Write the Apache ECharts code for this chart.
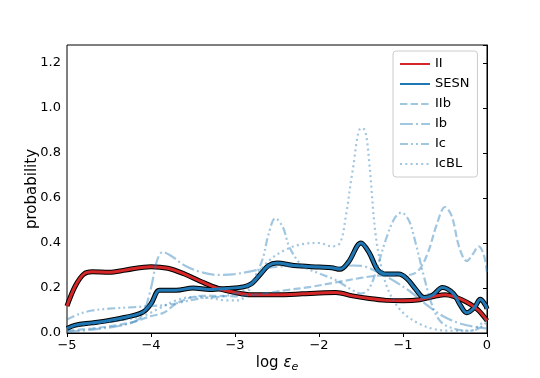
<!DOCTYPE html>
<html>
<head>
<meta charset="utf-8">
<script src="https://cdn.jsdelivr.net/npm/echarts@6/dist/echarts.min.js"></script>
<style>
html, body { margin: 0; padding: 0; background: #fff; }
#chart { width: 540px; height: 378px; }
</style>
</head>
<body>
<div id="chart"></div>
<script>
// legend names
var names = ["II", "SESN", "IIb", "Ib", "Ic", "IcBL"];

// II
var xII = [-5, -4.9, -4.8, -4.7, -4.5, -4.3, -4.0, -3.8, -3.6, -3.4, -3.2, -3.0, -2.8, -2.5, -2.2, -2.0, -1.8, -1.6, -1.4, -1.2, -1.0, -0.8, -0.6, -0.5, -0.4, -0.3, -0.2, -0.1, 0];
var yII = [0.12, 0.21, 0.262, 0.272, 0.27, 0.28, 0.295, 0.288, 0.262, 0.228, 0.198, 0.18, 0.17, 0.17, 0.174, 0.178, 0.18, 0.165, 0.153, 0.145, 0.143, 0.148, 0.165, 0.17, 0.163, 0.148, 0.128, 0.1, 0.055];

// SESN
var xSESN = [-5, -4.9, -4.7, -4.5, -4.3, -4.1, -4.0, -3.9, -3.8, -3.7, -3.5, -3.3, -3.1, -2.9, -2.8, -2.7, -2.6, -2.5, -2.3, -2.0, -1.85, -1.75, -1.65, -1.5, -1.4, -1.3, -1.2, -1.05, -0.95, -0.85, -0.75, -0.65, -0.53, -0.4, -0.32, -0.24, -0.15, -0.08, -0.02, 0];
var ySESN = [0.02, 0.035, 0.045, 0.056, 0.07, 0.092, 0.13, 0.19, 0.19, 0.19, 0.2, 0.193, 0.198, 0.205, 0.22, 0.26, 0.3, 0.311, 0.3, 0.293, 0.29, 0.283, 0.315, 0.4, 0.355, 0.28, 0.262, 0.262, 0.24, 0.195, 0.158, 0.168, 0.202, 0.175, 0.125, 0.09, 0.113, 0.15, 0.125, 0.107];

// IIb
var xIIb = [-5, -4.7, -4.4, -4.2, -4.0, -3.85, -3.7, -3.55, -3.4, -3.2, -3.0, -2.7, -2.4, -2.1, -1.8, -1.5, -1.3, -1.1, -0.9, -0.8, -0.7, -0.6, -0.5, -0.42, -0.33, -0.24, -0.17, -0.1, -0.04, 0];
var yIIb = [0.01, 0.02, 0.035, 0.05, 0.075, 0.09, 0.13, 0.155, 0.165, 0.165, 0.163, 0.173, 0.19, 0.205, 0.225, 0.245, 0.255, 0.257, 0.26, 0.285, 0.36, 0.48, 0.56, 0.52, 0.38, 0.32, 0.35, 0.385, 0.35, 0.27];

// Ib
var xIb = [-5, -4.7, -4.4, -4.2, -4.1, -4.0, -3.93, -3.86, -3.75, -3.6, -3.4, -3.2, -3.0, -2.8, -2.6, -2.4, -2.2, -2.0, -1.8, -1.6, -1.45, -1.3, -1.1, -0.9, -0.7, -0.5, -0.3, -0.1, 0];
var yIb = [0.005, 0.015, 0.03, 0.05, 0.08, 0.2, 0.32, 0.36, 0.34, 0.3, 0.27, 0.258, 0.262, 0.275, 0.29, 0.297, 0.298, 0.295, 0.29, 0.3, 0.295, 0.27, 0.23, 0.18, 0.12, 0.07, 0.04, 0.025, 0.02];

// Ic
var xIc = [-5, -4.85, -4.7, -4.5, -4.2, -4.0, -3.8, -3.6, -3.4, -3.2, -3.0, -2.85, -2.75, -2.67, -2.6, -2.52, -2.43, -2.35, -2.2, -2.0, -1.8, -1.6, -1.5, -1.4, -1.3, -1.2, -1.1, -1.02, -0.93, -0.85, -0.75, -0.65, -0.55, -0.4, -0.2, -0.1, 0];
var yIc = [0.06, 0.085, 0.1, 0.108, 0.115, 0.12, 0.125, 0.14, 0.155, 0.16, 0.175, 0.2, 0.26, 0.33, 0.44, 0.51, 0.47, 0.38, 0.3, 0.265, 0.235, 0.19, 0.175, 0.2, 0.3, 0.42, 0.51, 0.535, 0.5, 0.4, 0.25, 0.12, 0.05, 0.02, 0.01, 0.02, 0.05];

// IcBL
var xIcBL = [-5, -4.7, -4.4, -4.1, -3.9, -3.7, -3.5, -3.3, -3.1, -2.95, -2.85, -2.75, -2.6, -2.4, -2.2, -2.0, -1.85, -1.75, -1.68, -1.6, -1.5, -1.45, -1.4, -1.33, -1.25, -1.15, -1.0, -0.8, -0.6, -0.4, -0.2, -0.1, 0];
var yIcBL = [0.025, 0.04, 0.055, 0.075, 0.11, 0.145, 0.16, 0.155, 0.145, 0.145, 0.18, 0.25, 0.32, 0.37, 0.395, 0.4, 0.385, 0.4, 0.52, 0.72, 0.91, 0.9, 0.75, 0.45, 0.28, 0.17, 0.09, 0.04, 0.015, 0.01, 0.01, 0.03, 0.07];

// tick labels
var xTicks = [-5, -4, -3, -2, -1, 0];
var yTicks = [0.0, 0.2, 0.4, 0.6, 0.8, 1.0, 1.2];

function pairs(xs, ys){
	var out = [];
	for(var i = 0; i < xs.length; ++i){
		out.push([xs[i], ys[i]]);
	}
	return out;
}

var light = "rgba(31,119,180,0.42)";
var font = "DejaVu Sans";

function outline(name, xs, ys){
	return {
		name : name + "_edge",
		type : "line",
		data : pairs(xs, ys),
		smooth : 0.35,
		showSymbol : false,
		symbol : "none",
		silent : true,
		lineStyle : { color : "#000", width : 5 },
		z : 2
	};
}

function curve(name, xs, ys, color, width, dash, z){
	return {
		name : name,
		type : "line",
		data : pairs(xs, ys),
		smooth : 0.35,
		showSymbol : false,
		symbol : "none",
		itemStyle : { color : color },
		lineStyle : { color : color, width : width, type : dash, cap : "butt" },
		z : z
	};
}

var chart = echarts.init(document.getElementById("chart"), null, {renderer : "canvas"});

var option = {
	animation : false,
	backgroundColor : "#fff",
	grid : {
		left : 67, right : 53, top : 45, bottom : 42,
		show : true, borderColor : "#000", borderWidth : 1
	},
	legend : {
		data : names,
		orient : "vertical",
		left : 393,
		top : 51,
		padding : [6, 8, 6, 6],
		itemWidth : 30,
		itemHeight : 10,
		itemGap : 6,
		itemStyle : { opacity : 0 },
		backgroundColor : "#fff",
		borderColor : "#ccc",
		borderWidth : 1,
		borderRadius : 3,
		textStyle : { fontFamily : font, fontSize : 13, color : "#000", lineHeight : 14 }
	},
	xAxis : {
		type : "value",
		min : -5, max : 0, interval : 1,
		name : "{a|log }{b|ε}{c|e}",
		nameLocation : "middle",
		nameGap : 21,
		nameMoveOverlap : false,
		nameTextStyle : {
			rich : {
				a : { fontFamily : font, fontSize : 15, color : "#000" },
				b : { fontFamily : font, fontSize : 15, fontStyle : "italic", color : "#000" },
				c : { fontFamily : font, fontSize : 11, fontStyle : "italic", color : "#000", padding : [8, 0, 0, 0] }
			}
		},
		splitLine : { show : false },
		axisLine : { show : true, onZero : false, lineStyle : { color : "#000" } },
		axisTick : { show : true, length : 4, lineStyle : { color : "#000" } },
		axisLabel : {
			fontFamily : font, fontSize : 13, color : "#000", margin : 6,
			formatter : function(v){
				return xTicks.indexOf(v) >= 0 ? String(v).replace("-", "\u2212") : "";
			}
		}
	},
	yAxis : {
		type : "value",
		min : 0, max : 1.28, interval : 0.2,
		name : "probability",
		nameLocation : "middle",
		nameGap : 27,
		nameMoveOverlap : false,
		nameTextStyle : { fontFamily : font, fontSize : 15, color : "#000" },
		splitLine : { show : false },
		axisLine : { show : true, lineStyle : { color : "#000" } },
		axisTick : { show : true, length : 4, lineStyle : { color : "#000" } },
		axisLabel : {
			fontFamily : font, fontSize : 13, color : "#000", margin : 6,
			formatter : function(v){
				for(var i = 0; i < yTicks.length; ++i){
					if(Math.abs(yTicks[i] - v) < 1e-6){
						return yTicks[i].toFixed(1);
					}
				}
				return "";
			}
		}
	},
	series : [
		outline("II", xII, yII),
		curve("II", xII, yII, "#d62728", 3, "solid", 3),
		outline("SESN", xSESN, ySESN),
		curve("SESN", xSESN, ySESN, "#1f77b4", 3, "solid", 3),
		curve("IIb", xIIb, yIIb, light, 2.2, [7.4, 3.2], 4),
		curve("Ib", xIb, yIb, light, 2.2, [12.8, 3.2, 2, 3.2], 4),
		curve("Ic", xIc, yIc, light, 2.2, [8, 3, 2, 3, 2, 3], 4),
		curve("IcBL", xIcBL, yIcBL, light, 2.2, [2, 3.3], 4)
	]
};

chart.setOption(option);
</script>
</body>
</html>
